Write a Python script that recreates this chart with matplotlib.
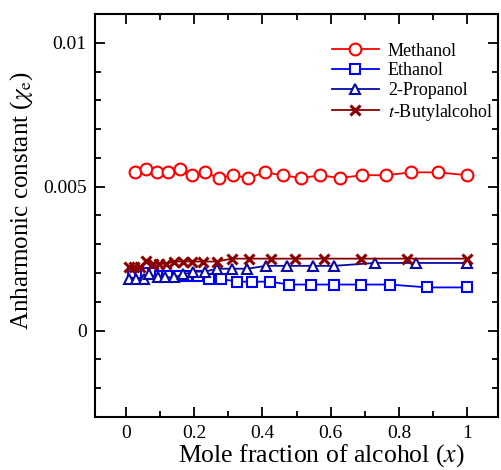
import matplotlib
matplotlib.use("Agg")
import matplotlib.pyplot as plt
from matplotlib.ticker import MultipleLocator, FixedLocator, FixedFormatter

plt.rcParams['font.family'] = ['Liberation Serif', 'DejaVu Serif']
plt.rcParams['mathtext.fontset'] = 'stix'

# Methanol
x_meoh = [0.027, 0.059, 0.090, 0.122, 0.158, 0.195, 0.231, 0.273, 0.313, 0.359,
          0.407, 0.459, 0.513, 0.569, 0.627, 0.691, 0.761, 0.836, 0.914, 1.0]
y_meoh = [0.0055, 0.0056, 0.0055, 0.0055, 0.0056, 0.0054, 0.0055, 0.0053, 0.0054, 0.0053,
          0.0055, 0.0054, 0.0053, 0.0054, 0.0053, 0.0054, 0.0054, 0.0055, 0.0055, 0.0054]

# Ethanol
x_etoh = [0.02, 0.04, 0.06, 0.08, 0.10, 0.12, 0.15, 0.18, 0.21, 0.244, 0.278, 0.324,
          0.369, 0.421, 0.478, 0.541, 0.61, 0.69, 0.773, 0.883, 1.0]
y_etoh = [0.0020, 0.0020, 0.0020, 0.0020, 0.0019, 0.0019, 0.0019, 0.0019, 0.0019, 0.0018,
          0.0018, 0.0017, 0.0017, 0.0017, 0.0016, 0.0016, 0.0016, 0.0016, 0.0016, 0.0015, 0.0015]

# 2-Propanol
x_ipa = [0.01, 0.029, 0.052, 0.068, 0.093, 0.114, 0.141, 0.168, 0.197, 0.231,
         0.268, 0.312, 0.356, 0.41, 0.473, 0.547, 0.61, 0.729, 0.851, 1.0]
y_ipa = [0.0018, 0.0018, 0.0018, 0.00195, 0.00185, 0.00185, 0.00185, 0.00195, 0.00205, 0.00205,
         0.00215, 0.00215, 0.00215, 0.00225, 0.00225, 0.00225, 0.00225, 0.00235, 0.00235, 0.00235]

# t-Butylalcohol
x_tba = [0.01, 0.024, 0.04, 0.059, 0.078, 0.098, 0.117, 0.141, 0.168, 0.195,
         0.226, 0.268, 0.31, 0.361, 0.425, 0.495, 0.58, 0.688, 0.822, 1.0]
y_tba = [0.0022, 0.0022, 0.0022, 0.00243, 0.00232, 0.00232, 0.00232, 0.0024, 0.0024, 0.0024,
         0.0024, 0.0024, 0.0025, 0.0025, 0.0025, 0.0025, 0.0025, 0.0025, 0.0025, 0.0025]

labels = ['Methanol', 'Ethanol', '2-Propanol', r'$t$-Butylalcohol']
yticks = [0, 0.005, 0.01]
ytick_labels = ['0', '0.005', '0.01']
xticks = [0, 0.2, 0.4, 0.6, 0.8, 1.0]
xtick_labels = ['0', '0.2', '0.4', '0.6', '0.8', '1']

fig = plt.figure(figsize=(5.01, 4.70), dpi=100)
ax = fig.add_axes([0.19, 0.113, 0.804, 0.857])

ax.plot(x_meoh, y_meoh, '-o', color='#ff0000', mfc='white', mec='#ff0000',
        ms=8.5, mew=1.5, lw=1.3, label=labels[0])
ax.plot(x_etoh, y_etoh, '-s', color='#0000ff', mfc='white', mec='#0000ff',
        ms=6.5, mew=1.5, lw=1.3, label=labels[1])
ax.plot(x_ipa, y_ipa, '-^', color='#0a0aa8', mfc='white', mec='#0a0aa8',
        ms=7, mew=1.5, lw=1.3, label=labels[2])
ax.plot(x_tba, y_tba, '-x', color='#8b0000', mec='#8b0000',
        ms=7, mew=2.2, lw=1.3, label=labels[3])

ax.set_xlim(-0.09, 1.09)
ax.set_ylim(-0.003, 0.011)
ax.xaxis.set_major_locator(FixedLocator(xticks))
ax.xaxis.set_major_formatter(FixedFormatter(xtick_labels))
ax.yaxis.set_major_locator(FixedLocator(yticks))
ax.yaxis.set_major_formatter(FixedFormatter(ytick_labels))
ax.xaxis.set_minor_locator(MultipleLocator(0.1))
ax.yaxis.set_minor_locator(MultipleLocator(0.001))
ax.tick_params(which='both', direction='in', top=True, right=True, width=1.3, labelsize=14)
ax.tick_params(which='major', length=7)
ax.tick_params(which='minor', length=4)
ax.tick_params(axis='y', pad=6)
ax.tick_params(axis='x', pad=6)
for s in ax.spines.values():
    s.set_linewidth(1.5)

ax.set_xlabel('Mole fraction of alcohol ($x$)', fontsize=18.5, va='baseline')
ax.xaxis.set_label_coords(0.562, -0.112)
ax.set_ylabel(r'Anharmonic constant ($\chi_{\rm e}$)', fontsize=18)
ax.yaxis.set_label_coords(-0.149, 0.536)

ax.legend(loc='upper right', frameon=False, fontsize=13, handlelength=2.6,
          labelspacing=0.15, borderaxespad=0.4, handletextpad=0.5,
          bbox_to_anchor=(1.025, 0.965))

fig.savefig('out.png', dpi=100)
